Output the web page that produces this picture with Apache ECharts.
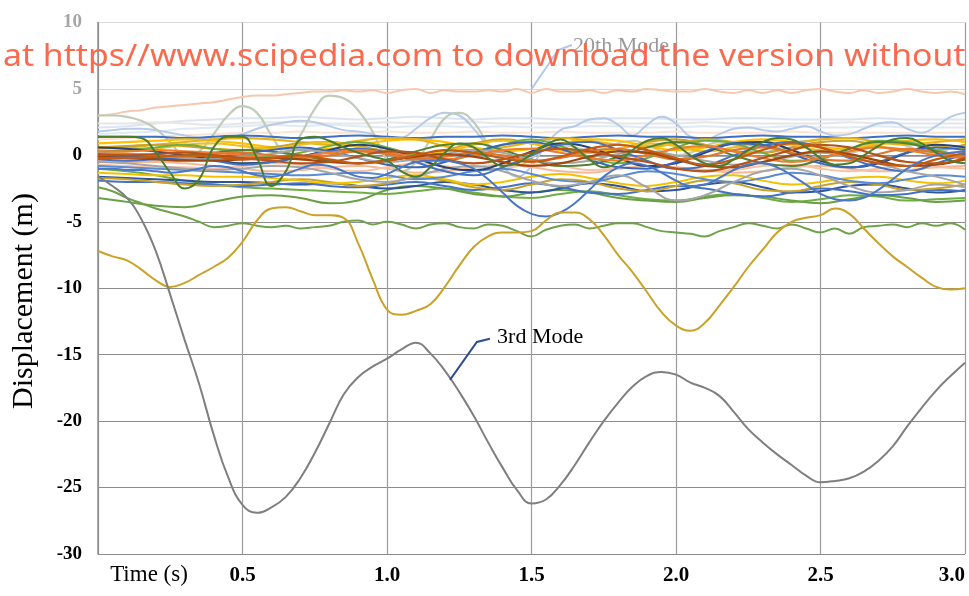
<!DOCTYPE html>
<html><head><meta charset="utf-8">
<script src="https://cdn.jsdelivr.net/npm/echarts@6/dist/echarts.min.js"></script>
<style>html,body{margin:0;padding:0;background:#fff}#c{width:969px;height:596px}</style>
</head><body><div id="c"></div>
<script>
// ---------- time bases ----------
const timeFine = [0,0.05,0.1,0.15,0.2,0.25,0.3,0.35,0.4,0.45,0.5,0.55,0.6,0.65,0.7,0.75,0.8,0.85,0.9,0.95,1.0,1.05,1.1,1.15,1.2,1.25,1.3,1.35,1.4,1.45,1.5,1.55,1.6,1.65,1.7,1.75,1.8,1.85,1.9,1.95,2.0,2.05,2.1,2.15,2.2,2.25,2.3,2.35,2.4,2.45,2.5,2.55,2.6,2.65,2.7,2.75,2.8,2.85,2.9,2.95,3.0];
const timeCoarse = [0,0.1,0.2,0.3,0.4,0.5,0.6,0.7,0.8,0.9,1.0,1.1,1.2,1.3,1.4,1.5,1.6,1.7,1.8,1.9,2.0,2.1,2.2,2.3,2.4,2.5,2.6,2.7,2.8,2.9,3.0];
const yTicks = [-30,-25,-20,-15,-10,-5,0,5,10];
const xTicks = [0.5,1.0,1.5,2.0,2.5,3.0];

// ---------- prominent modes (fine) ----------
const mode3 = [-1.6,-2.3,-3.2,-4.8,-7.2,-10.5,-13.9,-17.2,-21.0,-24.2,-26.3,-26.9,-26.5,-25.7,-24.3,-22.4,-20.2,-18.0,-16.7,-15.9,-15.3,-14.6,-14.1,-14.9,-16.2,-17.8,-19.6,-21.6,-23.5,-25.2,-26.2,-25.9,-24.8,-23.3,-21.6,-20.0,-18.6,-17.4,-16.6,-16.3,-16.5,-17.1,-17.5,-18.1,-19.3,-20.6,-21.6,-22.5,-23.3,-24.1,-24.6,-24.5,-24.3,-23.8,-23.0,-21.9,-20.4,-19.0,-17.7,-16.6,-15.6];
const modeGold = [-7.2,-7.6,-7.9,-8.6,-9.4,-9.9,-9.6,-9.0,-8.4,-7.7,-6.5,-4.9,-4.0,-3.9,-4.2,-4.5,-4.5,-4.7,-6.6,-9.3,-11.6,-12.0,-11.7,-11.2,-9.9,-8.3,-6.9,-6.1,-5.8,-5.8,-5.7,-4.9,-4.3,-4.3,-4.8,-6.0,-7.5,-8.8,-10.3,-11.8,-12.8,-13.2,-12.6,-11.3,-9.9,-8.4,-7.1,-5.8,-5.0,-4.7,-4.5,-4.0,-4.4,-5.5,-6.6,-7.6,-8.4,-9.2,-9.9,-10.1,-10.0];
const modeGreen5 = [-2.4,-2.7,-3.2,-3.6,-4.0,-4.3,-4.6,-5.0,-5.4,-5.3,-5.1,-5.3,-5.4,-5.3,-5.5,-5.4,-5.3,-5.0,-4.9,-5.2,-5.0,-5.2,-5.5,-5.2,-5.1,-5.4,-5.5,-5.2,-5.3,-5.7,-6.1,-5.6,-5.3,-5.2,-5.5,-5.3,-5.1,-5.1,-5.4,-5.7,-5.8,-5.9,-6.1,-5.7,-5.4,-5.1,-5.3,-5.5,-5.2,-5.5,-5.8,-5.5,-5.9,-5.4,-5.3,-5.2,-5.4,-5.1,-5.3,-5.1,-5.6];
const modePeach = [3.0,3.1,3.3,3.4,3.6,3.7,3.8,3.9,4.0,4.2,4.4,4.5,4.5,4.6,4.7,4.8,4.8,4.9,4.8,4.9,4.7,4.9,5.0,4.7,4.9,4.8,4.8,4.9,4.8,5.0,4.7,5.0,4.8,4.8,4.9,4.7,4.9,4.8,5.0,4.9,4.8,4.8,5.0,4.8,4.7,4.9,4.7,4.9,4.7,4.9,5.0,4.8,4.7,4.9,4.7,4.8,5.0,4.8,4.7,4.8,4.6];
const modeLightBlue = [1.8,1.9,2.0,2.0,1.9,1.7,1.5,1.3,1.2,1.3,1.6,2.0,2.3,2.5,2.6,2.5,2.2,1.9,1.8,1.6,1.2,1.3,2.0,2.8,3.2,3.0,2.0,0.6,-0.8,-1.6,-0.8,0.8,1.9,2.2,2.7,2.8,2.3,1.5,2.3,2.9,2.4,1.4,1.2,1.6,2.0,2.1,1.9,1.8,2.0,2.2,1.8,1.5,1.6,2.0,2.4,2.5,2.0,1.7,2.2,2.9,3.2];
const modeGreyGreen = [3.0,3.0,2.9,2.6,2.0,1.0,0.0,0.3,1.6,3.0,3.7,3.2,1.5,0.2,1.5,3.5,4.5,4.3,3.4,1.8,-0.4,-1.2,-0.5,1.2,2.8,3.2,2.5,0.8,-0.5,-0.8,-0.2,0.5,0.8,0.6,0.4,0.5,0.9,1.1,0.8,0.3,0.0,0.2,0.7,1.0,0.8,0.4,0.2,0.5,0.9,1.1,0.8,0.4,0.2,0.5,0.9,1.0,0.7,0.3,0.2,0.5,0.8];
const modeDarkGreen = [1.4,1.4,1.4,1.3,0.2,-1.3,-2.5,-1.8,0.6,1.4,1.4,-0.2,-2.3,-1.2,1.2,1.4,1.1,0.6,0.2,-0.1,-0.4,-1.2,-1.6,-0.9,0.2,0.9,0.6,-0.2,-0.8,-0.6,0.1,0.8,1.2,0.6,-0.3,-0.9,-0.5,0.4,1.1,1.3,0.8,0.0,-0.6,-0.8,-0.3,0.4,1.0,1.3,1.2,0.6,-0.2,-0.7,-0.6,0.0,0.7,1.2,1.3,0.9,0.2,-0.4,-0.6];
const modeBlueDip = [-1.0,-1.0,-1.1,-1.1,-1.2,-1.3,-1.2,-1.0,-0.8,-0.9,-1.2,-1.5,-1.6,-1.4,-1.0,-0.7,-0.8,-1.2,-1.6,-1.7,-1.4,-0.9,-0.5,-0.4,-0.4,-0.6,-1.0,-1.8,-2.8,-3.8,-4.4,-4.6,-4.3,-3.6,-2.6,-1.6,-0.9,-0.6,-0.8,-1.3,-1.9,-2.3,-2.2,-1.7,-1.1,-0.7,-0.6,-0.9,-1.5,-2.2,-2.9,-3.3,-3.4,-3.2,-2.6,-1.8,-1.0,-0.4,0.0,0.2,0.3];

// ---------- background modes (coarse) ----------
const p1 = [2.1,2.2,2.4,2.6,2.7,2.8,2.8,2.9,2.8,2.7,2.8,2.9,2.8,2.7,2.8,2.8,2.7,2.7,2.8,2.8,2.7,2.7,2.8,2.8,2.7,2.7,2.7,2.8,2.7,2.7,2.7];
const p2 = [1.6,1.7,1.8,2.0,2.1,2.2,2.3,2.2,2.3,2.2,2.1,2.2,2.2,2.1,2.2,2.1,2.1,2.2,2.2,2.1,2.1,2.2,2.1,2.1,2.2,2.1,2.1,2.2,2.1,2.1,2.1];
const p3 = [1.2,1.3,1.4,1.5,1.6,1.7,1.7,1.8,1.7,1.7,1.8,1.7,1.7,1.8,1.7,1.7,1.8,1.7,1.7,1.7,1.8,1.7,1.7,1.7,1.8,1.7,1.7,1.7,1.7,1.7,1.7];
const p4 = [2.4,2.4,2.5,2.4,2.3,2.4,2.5,2.5,2.4,2.4,2.5,2.4,2.4,2.5,2.4,2.4,2.4,2.5,2.4,2.4,2.4,2.5,2.4,2.4,2.4,2.4,2.5,2.4,2.4,2.4,2.4];
const b1 = [1.4,1.4,1.4,1.3,1.4,1.5,1.4,1.3,1.4,1.5,1.4,1.3,1.4,1.4,1.5,1.4,1.3,1.4,1.5,1.4,1.4,1.3,1.4,1.5,1.4,1.4,1.3,1.4,1.5,1.4,1.4];
const b2 = [0.5,0.6,0.8,1.0,1.2,1.3,1.2,1.0,0.8,1.1,1.3,1.2,0.7,0.4,0.6,1.0,1.3,1.1,0.8,0.6,0.9,1.2,1.0,0.7,0.9,1.2,1.3,1.0,0.8,1.0,1.2];
const b3 = [0.2,0.3,0.5,0.8,0.9,0.7,0.5,0.8,1.0,0.6,0.2,0.0,0.3,0.8,1.1,0.9,0.4,0.2,0.5,0.9,0.7,0.3,0.6,1.0,0.8,0.4,0.5,0.9,1.1,0.7,0.5];
const b4 = [0.0,0.1,0.0,-0.1,0.1,0.2,0.0,-0.2,0.0,0.3,0.1,-0.3,-0.1,0.2,0.0,-0.4,-0.2,0.3,0.5,0.1,-0.3,-0.1,0.4,0.6,0.2,-0.3,-0.4,0.1,0.5,0.2,-0.1];
const b5 = [-0.2,-0.2,-0.1,0.0,-0.1,-0.3,-0.2,0.0,-0.3,-0.6,-0.4,0.0,0.4,0.2,-0.2,-0.5,-0.1,0.5,0.8,0.4,-0.2,-0.7,-0.3,0.4,0.9,0.6,-0.1,-0.6,-0.8,-0.3,0.2];
const b6 = [0.1,0.0,0.1,0.2,0.0,-0.2,-0.4,-0.6,-0.5,-0.1,0.3,0.2,-0.3,-0.6,-0.3,0.2,0.5,0.3,-0.1,-0.5,-1.0,-1.2,-0.8,-0.2,0.4,0.8,0.6,0.0,-0.5,-0.6,-0.2];
const b7 = [-0.4,-0.5,-0.5,-0.6,-0.8,-1.0,-1.2,-1.1,-0.9,-0.8,-1.0,-1.3,-1.2,-0.9,-0.7,-0.9,-1.2,-1.3,-1.0,-0.8,-0.9,-1.1,-1.3,-1.2,-0.9,-0.8,-1.0,-1.2,-1.1,-0.9,-0.8];
const b8 = [-0.3,-0.4,-0.3,-0.2,-0.4,-0.7,-0.5,-0.1,0.3,0.5,0.2,-0.5,-1.2,-1.5,-0.9,0.0,0.8,1.0,0.4,-0.4,-1.0,-0.8,0.0,0.7,1.0,0.6,-0.2,-0.9,-1.2,-0.6,0.1];
const b9 = [-0.8,-0.9,-1.0,-1.1,-1.2,-1.3,-1.4,-1.5,-1.4,-1.3,-1.5,-1.8,-1.6,-1.2,-1.0,-1.4,-1.9,-2.0,-1.6,-1.2,-1.4,-1.8,-2.0,-1.7,-1.3,-1.5,-1.9,-2.1,-1.8,-1.5,-1.6];
const b10 = [-1.6,-1.7,-1.8,-1.9,-2.0,-2.0,-2.1,-2.2,-2.1,-2.3,-2.5,-2.3,-2.0,-2.2,-2.6,-2.8,-2.5,-2.1,-2.3,-2.7,-2.6,-2.2,-2.0,-2.4,-2.8,-2.7,-2.3,-2.2,-2.5,-2.8,-2.6];
const b11 = [-1.9,-2.0,-2.0,-2.1,-2.2,-2.3,-2.2,-2.1,-2.3,-2.4,-2.2,-2.0,-2.3,-2.6,-2.4,-2.1,-2.4,-2.8,-2.9,-2.6,-2.3,-2.5,-2.9,-3.1,-2.8,-2.5,-2.7,-3.0,-2.9,-2.6,-2.7];
const b12 = [-1.0,-1.2,-1.5,-1.9,-2.2,-2.4,-2.5,-2.6,-2.7,-2.8,-2.9,-2.7,-2.5,-2.8,-3.1,-3.2,-2.9,-2.7,-3.0,-3.3,-3.4,-3.1,-2.9,-3.2,-3.5,-3.3,-3.0,-3.1,-3.4,-3.3,-3.2];
const b13 = [-3.2,-3.5,-3.8,-3.9,-3.5,-3.1,-3.0,-3.2,-3.6,-3.4,-2.6,-2.3,-2.5,-2.9,-3.1,-2.8,-2.6,-2.8,-3.2,-3.4,-3.5,-3.2,-3.0,-3.1,-3.4,-3.6,-3.3,-3.0,-3.2,-3.5,-3.4];
const b14 = [-1.7,-1.8,-2.0,-2.2,-2.3,-2.2,-2.0,-1.8,-2.0,-2.3,-2.1,-1.7,-1.9,-2.4,-2.6,-2.2,-1.8,-2.0,-2.5,-2.7,-2.3,-1.9,-2.1,-2.6,-2.7,-2.3,-2.0,-2.2,-2.6,-2.5,-2.2];
const b15 = [-1.3,-1.4,-1.5,-1.5,-1.6,-1.6,-1.7,-1.9,-2.1,-2.0,-1.7,-1.5,-1.8,-2.2,-2.0,-1.6,-1.4,-1.7,-2.1,-2.3,-2.0,-1.6,-1.5,-1.9,-2.2,-2.0,-1.7,-1.6,-1.9,-2.1,-1.9];
const b16 = [0.3,0.4,0.6,0.8,0.5,0.2,-0.1,0.2,0.7,1.0,0.6,0.0,-0.4,0.1,0.8,1.2,0.7,-0.1,-0.6,-0.2,0.6,1.1,0.9,0.2,-0.4,-0.2,0.5,1.1,1.0,0.4,-0.1];
const b17 = [0.6,0.5,0.3,0.0,-0.3,-0.6,-0.5,-0.1,0.4,0.8,0.5,-0.2,-0.9,-1.1,-0.6,0.3,0.9,0.6,-0.2,-0.8,-0.6,0.2,0.9,1.0,0.4,-0.4,-0.9,-0.6,0.2,0.8,0.6];
const b18 = [0.2,0.1,0.0,-0.2,-0.3,-0.2,0.1,0.4,0.2,-0.2,-0.5,-0.3,0.1,0.4,0.2,-0.3,-0.6,-0.4,0.1,0.3,0.0,-0.4,-0.7,-0.5,-0.1,0.2,-0.1,-0.6,-1.2,-1.6,-2.2];
const b19 = [-0.7,-0.8,-0.9,-0.9,-1.0,-0.8,-0.6,-0.7,-1.0,-1.2,-0.9,-0.6,-0.8,-1.1,-1.0,-0.7,-0.8,-1.1,-1.0,-0.8,-0.9,-1.2,-1.1,-0.8,-0.7,-1.0,-1.2,-1.0,-0.8,-0.9,-1.0];
const b20 = [-0.5,-0.6,-0.8,-1.0,-1.1,-1.0,-0.8,-0.9,-1.3,-1.8,-2.0,-1.6,-1.0,-0.8,-1.2,-1.9,-2.3,-2.0,-1.5,-2.4,-3.4,-3.0,-2.0,-1.2,-1.0,-1.5,-2.3,-2.8,-2.6,-2.2,-2.4];
const b21 = [0.9,1.0,1.1,1.2,1.1,0.9,0.6,0.4,0.5,0.8,1.1,1.2,1.0,0.6,0.3,0.5,0.9,1.2,1.1,0.7,0.4,0.6,1.0,1.2,1.0,0.6,0.5,0.8,1.1,1.2,1.0];
const b22 = [0.3,0.3,0.4,0.3,0.2,0.0,-0.2,-0.1,0.2,0.4,0.2,-0.1,-0.3,0.0,0.4,0.5,0.2,-0.2,-0.4,0.0,0.5,0.7,0.3,-0.2,-0.5,-0.2,0.3,0.6,0.4,0.0,-0.2];
const b23 = [-0.1,-0.1,-0.2,-0.3,-0.2,0.1,0.4,0.6,0.3,-0.2,-0.7,-0.9,-0.5,0.2,0.8,1.0,0.5,-0.3,-0.9,-1.0,-0.5,0.3,0.9,0.8,0.1,-0.6,-0.9,-0.5,0.2,0.6,0.4];
const b24 = [-0.1,-0.2,-0.3,-0.4,-0.4,-0.3,-0.2,-0.3,-0.5,-0.6,-0.4,-0.1,0.1,-0.1,-0.5,-0.8,-0.6,-0.1,0.3,0.2,-0.3,-0.8,-0.9,-0.5,0.0,0.3,0.1,-0.4,-0.8,-0.7,-0.3];
const b25 = [0.6,0.7,0.8,0.7,0.5,0.4,0.6,0.9,1.0,0.7,0.3,0.1,0.4,0.9,1.2,0.9,0.4,0.2,0.5,1.0,1.2,0.8,0.3,0.2,0.6,1.0,1.1,0.7,0.3,0.4,0.8];
const b26 = [0.0,-0.1,-0.1,0.0,0.2,0.4,0.3,0.0,-0.4,-0.6,-0.3,0.3,0.8,0.9,0.4,-0.3,-0.8,-0.7,-0.1,0.6,1.0,0.7,0.0,-0.6,-0.8,-0.3,0.5,1.0,0.9,0.3,-0.3];

// ---------- styling (separate from data) ----------
const layers = [
  // [values, time base, color, width]
  [p1, 'c', '#DCE5F3', 2], [p4, 'c', '#E6E6E6', 2], [p2, 'c', '#DEEAF6', 2], [p3, 'c', '#FBE3D3', 2],
  [modePeach, 'f', '#F5C9B1', 2], [modeLightBlue, 'f', '#B7CAE6', 2], [modeGreyGreen, 'f', '#BFCDB8', 2.2],
  [b7, 'c', '#F4B896', 2], [b19, 'c', '#F6C2A6', 2],
  [b12, 'c', '#70AD47', 2], [b13, 'c', '#6A9F45', 2], [b10, 'c', '#2F5597', 2], [b11, 'c', '#4472C4', 2],
  [b14, 'c', '#C9A227', 2], [b15, 'c', '#F2C200', 2], [b9, 'c', '#5B8BD0', 2], [b20, 'c', '#A5A5A5', 2],
  [b1, 'c', '#3F6FC2', 2], [b21, 'c', '#FFC000', 2.2], [b2, 'c', '#E8B31A', 2.2], [b25, 'c', '#C9A227', 2.2],
  [b3, 'c', '#F0BE20', 2.2], [b16, 'c', '#70AD47', 2], [b26, 'c', '#548235', 2], [b17, 'c', '#264478', 2],
  [b8, 'c', '#4472C4', 2], [b23, 'c', '#3A68B8', 2], [b18, 'c', '#A5A5A5', 2], [b22, 'c', '#ED7D31', 2.2],
  [b4, 'c', '#E0782E', 2.2], [b24, 'c', '#9E480E', 2.2], [b6, 'c', '#B4531A', 2.2], [b5, 'c', '#C55A11', 2.2],
  [modeDarkGreen, 'f', '#4A7E2E', 2], [modeBlueDip, 'f', '#4A78C6', 2],
  [modeGreen5, 'f', '#6FA24A', 2], [modeGold, 'f', '#C9A227', 2], [mode3, 'f', '#7F7F7F', 2]
];

const annotations = {
  m20: { text: '20th Mode', line: [[1.498, 4.92], [1.592, 7.93], [1.640, 8.31]], textAt: [1.644, 8.23], lineColor: '#B4C7E7', textColor: '#9A9A9A' },
  m3:  { text: '3rd Mode',  line: [[1.218, -16.9], [1.311, -14.04], [1.356, -13.8]], textAt: [1.381, -13.67], lineColor: '#2F4D8F', textColor: '#000' }
};

const serif = '"Liberation Serif", "DejaVu Serif", serif';
const chart = echarts.init(document.getElementById('c'), null, { renderer: 'canvas' });

const series = layers.map((L, i) => {
  const ts = L[1] === 'f' ? timeFine : timeCoarse;
  return {
    type: 'line', data: ts.map((t, k) => [t, L[0][k]]), smooth: 0.45, showSymbol: false,
    silent: true, animation: false, lineStyle: { color: L[2], width: L[3] }, z: 2 + i * 0.01
  };
});

const hColors = yTicks.map(v => v > 0 ? '#D9D9D9' : '#8C8C8C');

chart.setOption({
  backgroundColor: '#fff',
  animation: false,
  grid: { left: 98, right: 4, top: 22.5, bottom: 42, containLabel: false, outerBoundsMode: 'none' },
  xAxis: {
    type: 'value', min: 0, max: 3.0, interval: 0.5,
    axisLine: { show: true, lineStyle: { color: '#8C8C8C', width: 1.5 } },
    axisTick: { show: false },
    splitLine: { show: true, lineStyle: { color: '#9C9C9C', width: 1.2 } },
    axisLabel: {
      margin: 11, color: '#000', fontFamily: serif, fontWeight: 'bold', fontSize: 21, hideOverlap: false,
      alignMaxLabel: 'right',
      formatter: v => (xTicks.indexOf(v) >= 0 ? v.toFixed(1) : '')
    }
  },
  yAxis: {
    type: 'value', min: -30, max: 10, interval: 5,
    axisLine: { show: true, lineStyle: { color: '#8C8C8C', width: 1.5 } },
    axisTick: { show: false },
    splitLine: { show: true, lineStyle: { color: hColors, width: 1.2 } },
    axisLabel: {
      margin: 16, fontFamily: serif, fontWeight: 'bold', fontSize: 19,
      color: v => (v > 0 ? '#A6A6A6' : '#000')
    }
  },
  series: series
});

function px(p) { return chart.convertToPixel({ gridIndex: 0 }, p); }
const g = [];
Object.keys(annotations).forEach(k => {
  const a = annotations[k];
  g.push({ type: 'polyline', shape: { points: a.line.map(px) }, style: { stroke: a.lineColor, lineWidth: 2, fill: null }, z: 50 });
  const tp = px(a.textAt);
  g.push({ type: 'text', x: tp[0], y: tp[1], style: { text: a.text, fill: a.textColor, font: '22px ' + serif, textAlign: 'left', textVerticalAlign: 'middle' }, z: 50 });
});
g.push({ type: 'text', x: 149, y: 575, style: { text: 'Time (s)', fill: '#000', font: '23px ' + serif, textAlign: 'center', textVerticalAlign: 'middle' }, z: 50 });
g.push({ type: 'text', x: 24, y: 301, rotation: Math.PI / 2, style: { text: 'Displacement (m)', fill: '#000', font: '30px ' + serif, textAlign: 'center', textVerticalAlign: 'middle' }, z: 50 });
g.push({ type: 'text', x: 3, y: 57, scaleX: 1.123, style: { text: 'at https//www.scipedia.com to download the version without', fill: '#FA6A4E', font: '30px "Noto Sans", "Open Sans", sans-serif', textAlign: 'left', textVerticalAlign: 'middle' }, z: 100 });
chart.setOption({ graphic: g });
</script></body></html>
